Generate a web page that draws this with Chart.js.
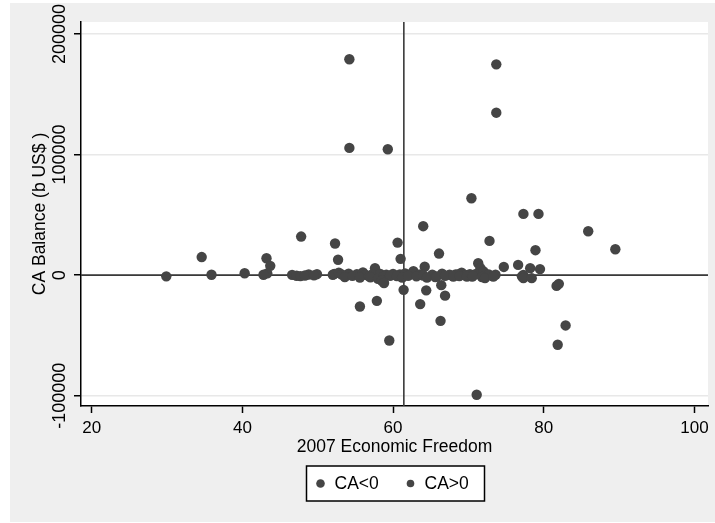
<!DOCTYPE html>
<html>
<head>
<meta charset="utf-8">
<script src="https://cdn.jsdelivr.net/npm/chart.js@4"></script>
<style>
  body { margin: 0; background: #fff; }
  canvas { display: block; }
</style>
</head>
<body>
<canvas id="chart" width="715" height="523"></canvas>
<script>
// values (balance in the axis units)
const negFreedom = [29.9, 47.2, 47.7, 48.3, 49.5, 53.6, 54.6, 55.6, 56.8, 57.0, 58.0, 58.7, 59.6, 60.5,
  61.2, 62.0, 63.1, 64.0, 64.5, 65.6, 65.8, 66.9, 68.0, 68.8, 69.8, 70.5, 70.6, 71.8, 72.2, 73.3,
  77.1, 77.3, 78.4, 55.6, 57.85, 61.4, 64.4, 63.6, 66.4, 66.9, 59.5, 66.3, 71.1, 81.85, 82.9,
  81.7, 82.0, 58.5, 58.8];
const negBalance = [-1000, -500, -800, -300, -200, -1500, -600, -2000, -1000, -1800, -3000, -1200, -500, -800,
  -2000, -500, -1000, -300, -2000, -1500, -1100, -500, -1100, -800, -1100, -1100, -600, -1500, -2500, -1200,
  -1000, -2500, -2500, -26000, -21300, -12200, -12600, -24000, -8300, -17000, -54200, -37900, -99200, -57700, -41700,
  -8900, -7200, -4500, -6500];

const posFreedom = [54.2, 54.2, 73.7, 73.7, 59.3, 70.4, 77.3, 79.3, 64.0, 85.9, 47.8, 60.6, 72.8, 52.3,
  66.1, 78.9, 89.5, 34.6, 43.2, 52.7, 61.0, 43.7, 64.2, 57.6, 71.3, 71.6, 74.7, 76.6, 78.2, 79.5,
  40.3, 62.7, 69.1, 35.9, 43.3, 46.6, 48.8, 49.9, 52.0, 52.2, 52.8, 53.2, 54.1, 55.2, 56.0, 56.3,
  57.2, 58.3, 59.1, 60.0, 60.9, 61.6, 62.4, 63.6, 65.2, 66.5, 67.5, 68.3, 68.7, 69.6, 70.2, 71.0,
  72.0, 72.7, 73.6, 77.3, 42.8];
const posBalance = [179000, 105500, 174800, 134700, 104400, 63800, 50800, 50800, 40600, 36400, 32000, 27000, 28400, 26200,
  17900, 20700, 21500, 15000, 14000, 12800, 13500, 7700, 7000, 5800, 9900, 5800, 6800, 8500, 5800, 5000,
  1600, 3300, 2000, 300, 1500, 200, 500, 800, 300, 1000, 2000, 500, 1200, 800, 2200, 300,
  600, 1000, 400, 1000, 500, 1500, 800, 500, 400, 1200, 300, 500, 800, 200, 800, 1000,
  3000, 500, 300, 200, 300];

const xTicks = [20, 40, 60, 80, 100];
const yTicks = [-100000, 0, 100000, 200000];
const seriesNames = ["CA<0", "CA>0"];

const X_MIN = 18.58, X_MAX = 101.8;
const Y_MIN = -108500, Y_MAX = 209900;
const MEAN_FREEDOM = 61.43;

const FONT = "'Liberation Sans', Arial, sans-serif";
const DOT = "#454545";

Chart.defaults.font.family = FONT;
Chart.defaults.color = "#000";

function toPoints(xs, ys) {
    return xs.map((x, i) => ({ x: x, y: ys[i] }));
}

// gray frame, white plot region
const backdrop = {
    id: "backdrop",
    beforeDraw(chart) {
        const { ctx, chartArea: a } = chart;
        ctx.save();
        ctx.fillStyle = "#fff";
        ctx.fillRect(0, 0, chart.width, chart.height);
        ctx.fillStyle = "#efefef";
        ctx.fillRect(10, 3, chart.width - 10, chart.height - 4);
        ctx.fillStyle = "#fff";
        ctx.fillRect(a.left, a.top, a.right - a.left, a.bottom - a.top);
        ctx.restore();
    }
};

// vertical y tick labels and the boxed legend
const extras = {
    id: "extras",
    afterDraw(chart) {
        const { ctx, chartArea: a } = chart;
        const y = chart.scales.y;
        ctx.save();
        ctx.fillStyle = "#000";
        ctx.font = "18px " + FONT;
        ctx.textAlign = "center";
        ctx.textBaseline = "middle";
        yTicks.forEach(v => {
            ctx.save();
            ctx.translate(60, y.getPixelForValue(v));
            ctx.rotate(-Math.PI / 2);
            ctx.fillText(String(v), 0, 0);
            ctx.restore();
        });

        const cx = (a.left + a.right) / 2;
        const bw = 178, bh = 35, by = 466;
        const bx = cx - bw / 2 + 1;
        ctx.fillStyle = "#fff";
        ctx.fillRect(bx, by, bw, bh);
        ctx.strokeStyle = "#000";
        ctx.lineWidth = 1.5;
        ctx.strokeRect(bx, by, bw, bh);
        ctx.font = "17.5px " + FONT;
        ctx.textAlign = "left";
        const mid = by + bh / 2;
        [[bx + 14, 4.3, bx + 28], [bx + 104, 3.8, bx + 118]].forEach((it, i) => {
            ctx.fillStyle = DOT;
            ctx.beginPath();
            ctx.arc(it[0], mid, it[1], 0, Math.PI * 2);
            ctx.fill();
            ctx.fillStyle = "#000";
            ctx.fillText(chart.data.datasets[i].label, it[2], mid + 1);
        });
        ctx.restore();
    }
};

new Chart(document.getElementById("chart"), {
    type: "scatter",
    data: {
        datasets: [
            { label: seriesNames[0], data: toPoints(negFreedom, negBalance), backgroundColor: DOT, borderWidth: 0, pointRadius: 5.2, order: 1 },
            { label: seriesNames[1], data: toPoints(posFreedom, posBalance), backgroundColor: DOT, borderWidth: 0, pointRadius: 5.2, order: 1 },
            { type: "line", label: "xline", data: [{ x: MEAN_FREEDOM, y: Y_MIN }, { x: MEAN_FREEDOM, y: Y_MAX }],
              borderColor: "#3a3a3a", borderWidth: 1.6, pointRadius: 0, order: 2 },
            { type: "line", label: "yline", data: [{ x: X_MIN, y: 0 }, { x: X_MAX, y: 0 }],
              borderColor: "#3a3a3a", borderWidth: 1.6, pointRadius: 0, order: 2 }
        ]
    },
    options: {
        responsive: false,
        animation: false,
        layout: { padding: { left: 10, top: 22, right: 7, bottom: 63 } },
        plugins: { legend: { display: false }, tooltip: { enabled: false } },
        scales: {
            x: {
                type: "linear", min: X_MIN, max: X_MAX,
                afterBuildTicks: s => { s.ticks = xTicks.map(v => ({ value: v })); },
                afterFit: s => { s.height = 54; },
                grid: { drawOnChartArea: false, tickLength: 7, tickColor: "#000", tickWidth: 1.5 },
                border: { color: "#000", width: 1.5 },
                ticks: { font: { size: 17 }, padding: 5, maxRotation: 0, autoSkip: false, callback: v => String(v) },
                title: { display: true, text: "2007 Economic Freedom", font: { size: 17.5 }, padding: { top: 0, bottom: 2.5 } }
            },
            y: {
                type: "linear", min: Y_MIN, max: Y_MAX,
                afterBuildTicks: s => { s.ticks = yTicks.map(v => ({ value: v })); },
                afterFit: s => { s.width = 71; },
                grid: { color: "#e8e8e8", lineWidth: 1.5, tickLength: 7, tickColor: "#000", tickWidth: 1.5 },
                border: { color: "#000", width: 1.5 },
                ticks: { callback: () => "" },
                title: { display: true, text: "CA Balance (b US$ )", font: { size: 17.5 }, padding: { top: 19.5, bottom: 0 } }
            }
        }
    },
    plugins: [backdrop, extras]
});
</script>
</body>
</html>
